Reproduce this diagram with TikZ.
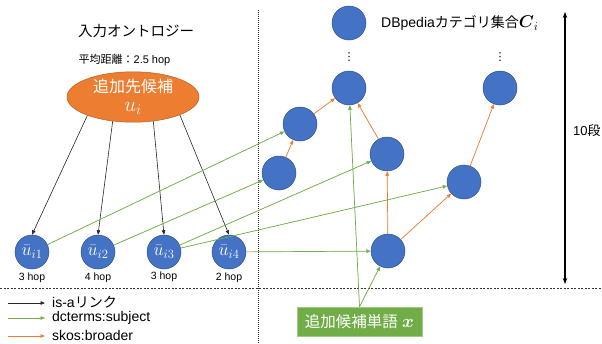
\RequirePackage{fix-cm}
\documentclass[tikz,border=0pt]{standalone}
\usepackage{amsmath}
\usepackage{fontspec}
\setmainfont{Liberation Sans}
\newfontfamily\jp{Noto Sans CJK JP}
\newfontfamily\dv{DejaVu Sans}
\usetikzlibrary{arrows.meta,shapes.geometric}
\definecolor{nblue}{HTML}{4472C4}
\definecolor{nbord}{HTML}{2F528F}
\definecolor{norange}{HTML}{ED7D31}
\definecolor{ngreen}{HTML}{70AD47}
\definecolor{ngreenb}{HTML}{A3C98A}
\newcommand{\fsz}[1]{\fontsize{#1}{#1}\selectfont}
\tikzset{
  cat/.style={circle,fill=nblue,draw=nbord,line width=0.5pt,minimum size=34pt,inner sep=0pt,text=white,font=\fsz{18}},
  hop/.style={font=\fsz{10.5},inner sep=0pt},
  tip/.style={-{Triangle[length=4.5pt,width=3.5pt]}},
  isa/.style={tip,line width=0.6pt,draw=black!85},
  subj/.style={tip,line width=0.7pt,draw=ngreen,fill=ngreen},
  broad/.style={tip,line width=0.7pt,draw=norange,fill=norange},
  sep/.style={line width=0.6pt,draw=black!80},
}
\begin{document}
\begin{tikzpicture}[x=1pt,y=-1pt]
\useasboundingbox (0,0) rectangle (602,343);

% separators
\draw[sep,dash pattern=on 1pt off 1pt] (258,10) -- (258,343);
\draw[sep,dash pattern=on 2pt off 1.5pt] (0,288) -- (602,288);

% titles
\node[inner sep=0pt] (title) at (136,31) {\jp\fsz{14.5}入力オントロジー};
\node[inner sep=0pt] (avg) at (124.5,60) {\fsz{11}{\jp 平均距離：}2.5 hop};

% candidate ellipse
\node[ellipse,fill=norange,draw=norange!75!black,line width=0.5pt,minimum width=132pt,minimum height=50pt,inner sep=0pt,text=white,align=center] (u) at (133,97)
  {{\jp\fsz{16}追加先候補}\\[7pt]{\fsz{21}$u_i$}};

% input ontology nodes
\node[cat] (u1) at (32,252) {$\bar{u}_{i1}$};
\node[cat] (u2) at (98,252) {$\bar{u}_{i2}$};
\node[cat] (u3) at (164,252) {$\bar{u}_{i3}$};
\node[cat] (u4) at (229,252) {$\bar{u}_{i4}$};
\node[hop] (h1) at (32,278) {3 hop};
\node[hop] (h2) at (98,278) {4 hop};
\node[hop] (h3) at (164,277) {3 hop};
\node[hop] (h4) at (229,278) {2 hop};

% DBpedia categories
\node[cat] (t) at (349,23) {};
\node[cat] (t2) at (349,88) {};
\node[cat] (r2) at (500,88) {};
\node[cat] (a) at (300,124) {};
\node[cat] (b) at (279,173) {};
\node[cat] (c) at (387,154) {};
\node[cat] (d) at (388,251) {};
\node[cat] (e) at (464,182) {};
\node[inner sep=0pt] (dots1) at (349,57) {\dv\fsz{11}⋮};
\node[inner sep=0pt] (dots2) at (500,57) {\dv\fsz{11}⋮};
\node[anchor=west,inner sep=0pt] (dbl) at (381,23) {\fsz{14}DBpedia{\jp カテゴリ集合}{\fsz{17}$\boldsymbol{C}_i$}};

% word box
\node[fill=ngreen,draw=ngreenb,line width=0.6pt,minimum width=125pt,minimum height=29pt,inner sep=0pt,text=white] (x) at (359.5,321.5)
  {\fsz{15.5}{\jp 追加候補単語} {\fsz{18}$\boldsymbol{x}$}};

% is-a links
\draw[isa] (u.202) -- (u1.north);
\draw[isa] (u.230) -- (u2.north);
\draw[isa] (u.310) -- (u3.north);
\draw[isa] (u.339) -- (u4.north);

% dcterms:subject
\draw[subj] (u1) -- (a);
\draw[subj] (u2) -- (b);
\draw[subj] (u3) -- (c);
\draw[subj] (u3) -- (e);
\draw[subj] (u4) -- (d);
\draw[subj] (x.north) -- (t2);
\draw[subj] (x.north) -- (d);

% skos:broader
\draw[broad] (b) -- (a);
\draw[broad] (a) -- (t2);
\draw[broad] (c) -- (t2);
\draw[broad] (d) -- (c);
\draw[broad] (d) -- (e);
\draw[broad] (e) -- (r2);

% 10 levels arrow
\coordinate (tt) at (565,12);
\coordinate (tb) at (565,284);
\draw[line width=1.4pt,{Stealth[length=6pt,width=4.5pt]}-{Stealth[length=6pt,width=4.5pt]}] (tt) -- (tb);
\node[anchor=west,inner sep=0pt] (ten) at (573,131) {\fsz{13}10{\jp 段}};

% legend
\coordinate (l1a) at (8,303); \coordinate (l1b) at (45,303);
\coordinate (l2a) at (8,318); \coordinate (l2b) at (45,318);
\coordinate (l3a) at (8,336); \coordinate (l3b) at (45,336);
\draw[isa] (l1a) -- (l1b);
\draw[subj] (l2a) -- (l2b);
\draw[broad] (l3a) -- (l3b);
\node[anchor=west,inner sep=0pt] (lg1) at (52,302) {\fsz{14}is-a{\jp リンク}};
\node[anchor=west,inner sep=0pt] (lg2) at (52,318) {\fsz{14}dcterms:subject};
\node[anchor=west,inner sep=0pt] (lg3) at (52,335) {\fsz{14}skos:broader};
\end{tikzpicture}
\end{document}
